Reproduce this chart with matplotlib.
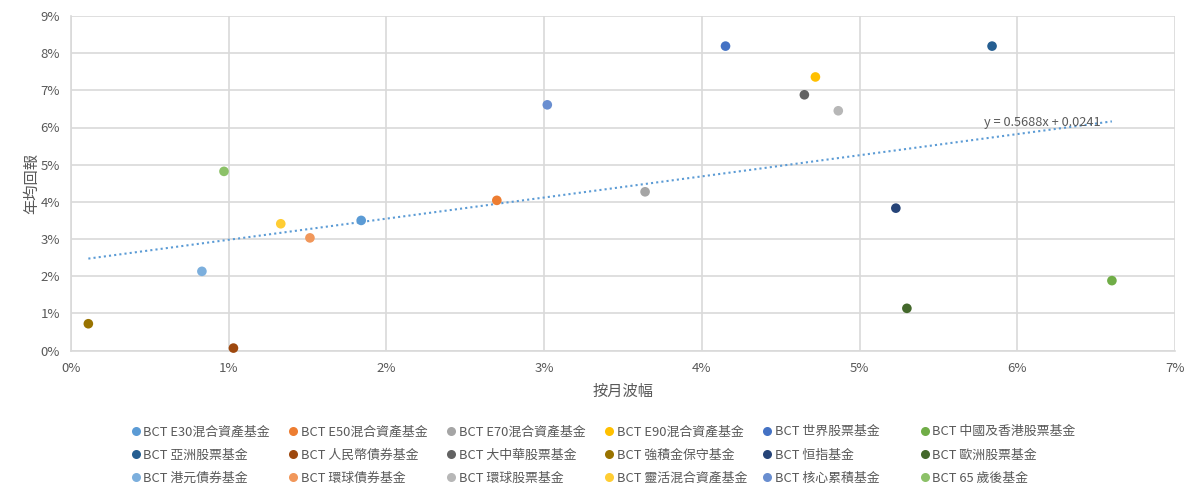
import numpy as np
import matplotlib
matplotlib.use('Agg')
import matplotlib.pyplot as plt
from matplotlib.ticker import FuncFormatter, MultipleLocator
from matplotlib.lines import Line2D

plt.rcParams['font.family'] = ['Noto Sans CJK TC', 'DejaVu Sans']

# fund names, monthly volatility (%) and annual return (%)
funds = ['BCT E30混合資產基金', 'BCT E50混合資產基金', 'BCT E70混合資產基金',
         'BCT E90混合資產基金', 'BCT 世界股票基金', 'BCT 中國及香港股票基金',
         'BCT 亞洲股票基金', 'BCT 人民幣債券基金', 'BCT 大中華股票基金',
         'BCT 強積金保守基金', 'BCT 恒指基金', 'BCT 歐洲股票基金',
         'BCT 港元債券基金', 'BCT 環球債券基金', 'BCT 環球股票基金',
         'BCT 靈活混合資產基金', 'BCT 核心累積基金', 'BCT 65 歲後基金']
volatility = [1.84, 2.70, 3.64, 4.72, 4.15, 6.60,
              5.84, 1.03, 4.65, 0.11, 5.23, 5.30,
              0.83, 1.515, 4.865, 1.33, 3.02, 0.97]
annual_return = [3.50, 4.04, 4.27, 7.36, 8.19, 1.88,
                 8.19, 0.065, 6.88, 0.72, 3.83, 1.135,
                 2.13, 3.03, 6.45, 3.41, 6.61, 4.82]
colors = ['#5B9BD5', '#ED7D31', '#A5A5A5', '#FFC000', '#4472C4', '#70AD47',
          '#255E91', '#9E480E', '#636363', '#997300', '#264478', '#43682B',
          '#7CAFDD', '#F1975A', '#B7B7B7', '#FFCD33', '#698ED0', '#8CC168']

# linear trendline shown on the chart (fractions)
slope = 0.5688
intercept = 0.0241

text_col = '#595959'
grid_col = '#D9D9D9'

fig = plt.figure(figsize=(12, 4.99), dpi=100)
ax = fig.add_axes([71/1200, 1-350.5/499, (1175-71)/1200, (350.5-16)/499])

ax.set_xlim(0, 7)
ax.set_ylim(0, 9)
ax.xaxis.set_major_locator(MultipleLocator(1))
ax.yaxis.set_major_locator(MultipleLocator(1))
pct = FuncFormatter(lambda v, p: '%d%%' % round(v))
ax.xaxis.set_major_formatter(pct)
ax.yaxis.set_major_formatter(pct)
ax.grid(True, color=grid_col, linewidth=1.2, zorder=0)
ax.set_axisbelow(True)
for s in ['top', 'right']:
    ax.spines[s].set_visible(False)
for s in ['left', 'bottom']:
    ax.spines[s].set_color(grid_col)
    ax.spines[s].set_linewidth(1.2)
ax.tick_params(length=0, colors=text_col, labelsize=9.5, pad=8)

handles = []
for i in range(len(funds)):
    ax.scatter(volatility[i], annual_return[i], s=48, color=colors[i],
               edgecolors='none', zorder=3, clip_on=False)
    handles.append(Line2D([], [], linestyle='none', marker='o', markersize=6.5,
                          markerfacecolor=colors[i], markeredgecolor='none'))

# trendline
xs = np.array([min(volatility), max(volatility)])
ys = (slope * xs / 100 + intercept) * 100
ax.plot(xs, ys, color='#5B9BD5', linewidth=1.5, linestyle=(0, (1, 1.5)),
        dash_capstyle='butt', zorder=2)
ax.text(6.16, 6.14, 'y = %.4fx + %.4f' % (slope, intercept), color=text_col,
        fontsize=9.2, ha='center', va='center', zorder=4)

ax.set_xlabel('按月波幅', color=text_col, fontsize=11, labelpad=6)
ax.set_ylabel('年均回報', color=text_col, fontsize=11, labelpad=0)

# legend: 3 rows x 6 equal-width columns
ncol = 6
for c in range(ncol):
    idx = [r * ncol + c for r in range(3)]
    leg = fig.legend([handles[k] for k in idx], [funds[k] for k in idx],
                     loc='upper left', bbox_to_anchor=((124 + c * 157.8) / 1200, 1 - 420 / 499),
                     frameon=False, fontsize=9.3, handletextpad=0.1,
                     handlelength=1.0, labelspacing=0.8, borderaxespad=0)
    for t in leg.get_texts():
        t.set_color(text_col)

fig.savefig('out.png', dpi=100)
